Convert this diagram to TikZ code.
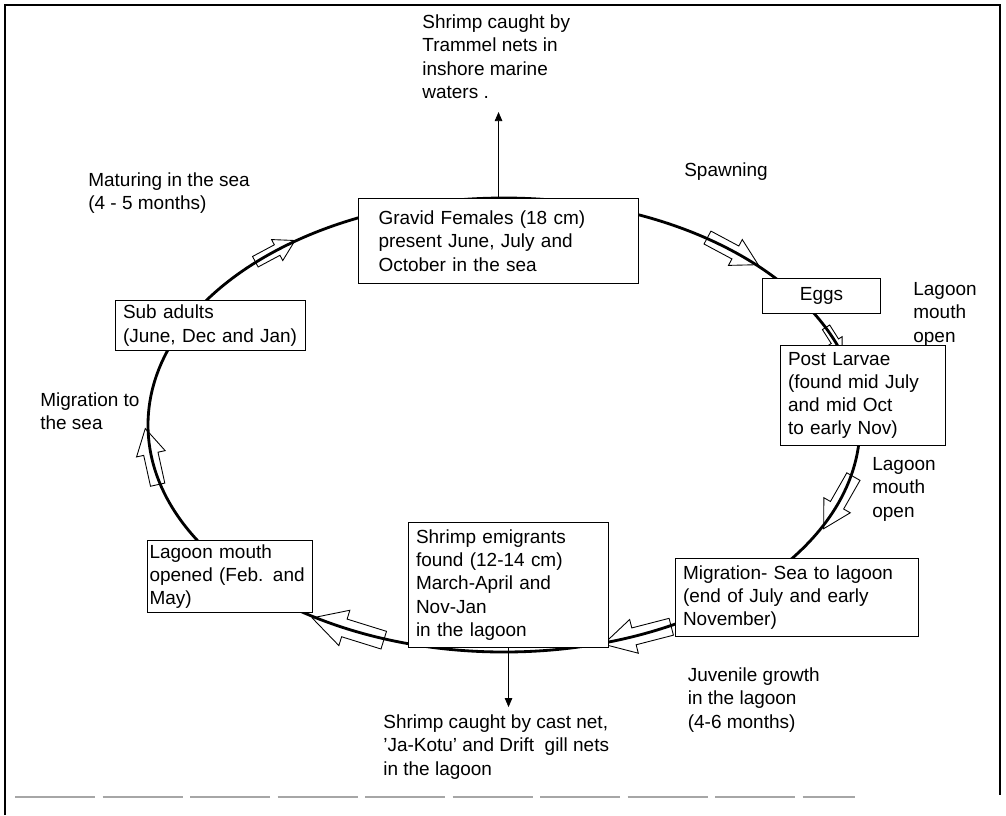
\documentclass[tikz,border=0pt]{standalone}
\usepackage{fontspec}
\setmainfont{Liberation Sans}
\usetikzlibrary{positioning, arrows.meta, calc}

\begin{document}
\begin{tikzpicture}[
    stage/.style={
        rectangle, draw=black, line width=0.6pt, fill=white,
        anchor=north west, align=left, inner xsep=0.15cm, inner ysep=0.08cm,
        font=\fontsize{10.8}{13.2}\selectfont
    },
    note/.style={
        anchor=north west, align=left, inner sep=0pt,
        font=\fontsize{10.8}{13.4}\selectfont
    },
    lifering/.style={line width=1.6pt},
    flowarrow/.style={draw=black, line width=0.5pt, line join=miter},
    catchflow/.style={-{Triangle[length=1.8mm, width=1.5mm]}, thin},
    frame/.style={line width=1pt}
]

\useasboundingbox (0,0) rectangle (20.12,-16.3);

% === Frame ===
\draw[frame] (0.1,-16.3) -- (0.1,-0.1) -- (20.0,-0.1) -- (20.0,-15.9);
\draw[gray!70, line width=0.8pt, dash pattern=on 1.6cm off 0.15cm]
    (0.3,-15.94) -- (17.1,-15.94);

% === Life cycle ring ===
\coordinate (ring) at (10.08,-8.5);
\draw[lifering] (ring) ellipse [x radius=7.12cm, y radius=4.54cm];

% Hollow arrows along the ring (clockwise)
\foreach \t/\len in {50/1.15, 22/0.6, -20/1.2, -68/1.4, 244/1.5, 188/1.15, 130/0.9} {
    \pgfmathsetmacro{\ang}{atan2(-4.54*cos(\t), 7.12*sin(\t))}
    \pgfmathsetmacro{\hw}{0.22*\len+0.04}
    \pgfmathsetmacro{\sw}{0.5*\hw}
    \draw[flowarrow, shift={($(ring)+(\t:7.12cm and 4.54cm)$)}, rotate=\ang]
        ({\len/2},0) -- ({0.05*\len},\hw) -- ({0.05*\len},\sw)
        -- ({-0.5*\len},\sw) -- ({-0.5*\len},-\sw) -- ({0.05*\len},-\sw)
        -- ({0.05*\len},-\hw) -- cycle;
}

% === Stages ===
\node[stage, text width=4.8cm, inner xsep=0.4cm, minimum height=1.7cm] (gravid)
    at (7.16,-3.96) {Gravid Females (18 cm)\\present June, July and\\October in the sea};

\node[stage, text width=2.06cm, align=center, minimum height=0.7cm] (eggs)
    at (15.24,-5.56) {Eggs};

\node[stage, text width=3.0cm, minimum height=2.0cm] (larvae)
    at (15.6,-6.9) {Post Larvae\\(found mid July\\and mid Oct\\to early Nov)};

\node[stage, text width=4.56cm, minimum height=1.56cm] (migsea)
    at (13.5,-11.16) {Migration- Sea to lagoon\\(end of July and early\\November)};

\node[stage, text width=3.7cm, minimum height=2.5cm] (emigrants)
    at (8.16,-10.44) {Shrimp emigrants\\found (12-14 cm)\\March-April and\\Nov-Jan\\in the lagoon};

\node[stage, text width=3.22cm, inner xsep=0.04cm, minimum height=1.4cm] (mouth)
    at (2.94,-10.8) {Lagoon mouth\\opened (Feb. and\\May)};

\node[stage, text width=3.5cm, minimum height=1.0cm] (subadult)
    at (2.3,-6.0) {Sub adults\\(June, Dec and Jan)};

% === Catches ===
\coordinate (trammeltip) at ([yshift=1.72cm]gravid.north);
\draw[catchflow] (gravid.north) -- (trammeltip);
\node[note] (trammel) at (8.44,-0.28)
    {Shrimp caught by\\Trammel nets in\\inshore marine\\waters .};

\coordinate (casttip) at ([yshift=-1.18cm]emigrants.south);
\draw[catchflow] (emigrants.south) -- (casttip);
\node[note] (castnet) at (7.66,-14.28)
    {Shrimp caught by cast net,\\'Ja-Kotu' and Drift\ \ gill nets\\in the lagoon};

% === Labels along the ring ===
\node[note, anchor=center] (spawn) at (14.52,-3.44) {Spawning};
\node[note] (eggopen) at (18.26,-5.64) {Lagoon\\mouth\\open};
\node[note] (larvaeopen) at (17.44,-9.14) {Lagoon\\mouth\\open};
\node[note] (juvenile) at (13.75,-13.34) {Juvenile growth\\in the lagoon\\(4-6 months)};
\node[note] (maturing) at (1.76,-3.44) {Maturing in the sea\\(4 - 5 months)};
\node[note] (migration) at (0.8,-7.84) {Migration to\\the sea};

\end{tikzpicture}
\end{document}
